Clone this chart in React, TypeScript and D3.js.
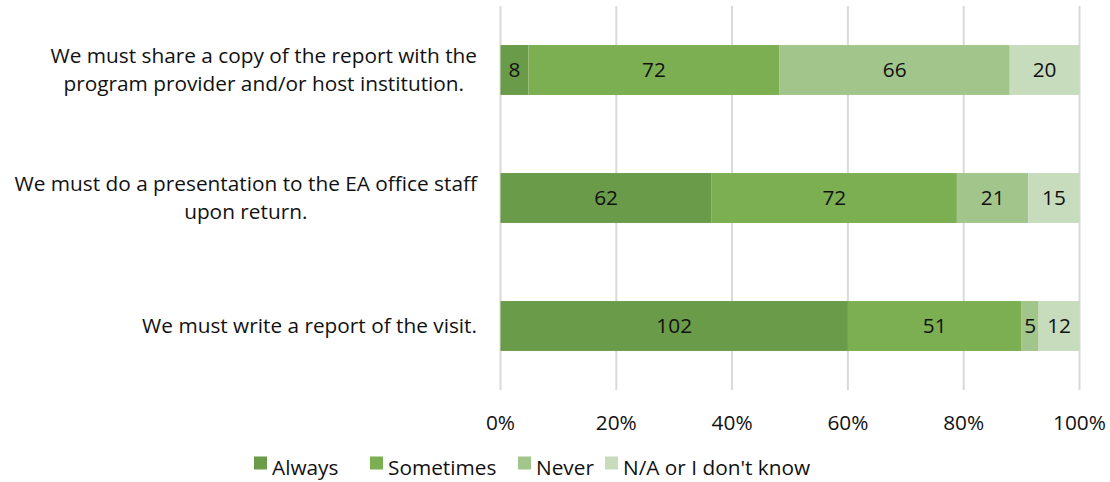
import { useEffect, useRef } from "react"
import * as d3 from "d3"

const categories = [
  ["We must share a copy of the report with the", "program provider and/or host institution."],
  ["We must do a presentation to the EA office staff", "upon return."],
  ["We must write a report of the visit."],
]
const seriesNames = ["Always", "Sometimes", "Never", "N/A or I don't know"]
const always = [8, 62, 102]
const sometimes = [72, 72, 51]
const never = [66, 21, 5]
const naDontKnow = [20, 15, 12]
const tickValues = [0, 0.2, 0.4, 0.6, 0.8, 1]
const colors = ["#699b48", "#7baf52", "#a2c58c", "#c7dcbd"]

const FONT = "'Open Sans', sans-serif"
const FS = "20.8px"

export default function App() {
  const svgRef = useRef<SVGSVGElement>(null)

  useEffect(() => {
    if (!svgRef.current) return
    const svg = d3.select(svgRef.current)
    svg.selectAll("*").remove()

    const width = 1110
    const height = 482
    const margin = { top: 6, left: 500.5, right: 30.5, bottom: 92 }
    const innerW = width - margin.left - margin.right
    const innerH = height - margin.top - margin.bottom

    const series = [always, sometimes, never, naDontKnow]
    const rows = categories.map((_, i) => {
      const vals = series.map(s => s[i])
      const total = d3.sum(vals)
      let acc = 0
      return vals.map((v, k) => {
        const start = acc / total
        acc += v
        return { value: v, x0: start, x1: acc / total, k }
      })
    })

    const x = d3.scaleLinear().domain([0, 1]).range([0, innerW])
    const y = d3.scaleBand<number>()
      .domain(d3.range(categories.length))
      .range([0, innerH])
      .paddingInner(0.61)
      .paddingOuter(0.305)

    const g = svg.append("g").attr("transform", `translate(${margin.left},${margin.top})`)

    g.selectAll("line.grid")
      .data(tickValues)
      .enter()
      .append("line")
      .attr("class", "grid")
      .attr("x1", d => x(d))
      .attr("x2", d => x(d))
      .attr("y1", 0)
      .attr("y2", innerH)
      .attr("stroke", "#d9d9d9")
      .attr("stroke-width", 2)

    rows.forEach((segs, i) => {
      const row = g.append("g").attr("transform", `translate(0,${y(i)})`)
      row.selectAll("rect")
        .data(segs)
        .enter()
        .append("rect")
        .attr("x", d => x(d.x0))
        .attr("width", d => x(d.x1) - x(d.x0))
        .attr("height", y.bandwidth())
        .attr("fill", d => colors[d.k])
      row.selectAll("text")
        .data(segs)
        .enter()
        .append("text")
        .attr("x", d => (x(d.x0) + x(d.x1)) / 2)
        .attr("y", y.bandwidth() / 2)
        .attr("dy", "0.36em")
        .attr("text-anchor", "middle")
        .style("font-family", FONT)
        .style("font-size", FS)
        .style("fill", "#111")
        .text(d => d.value)
    })

    // category labels: block right-aligned, lines centered within block
    const labelRight = -23.5
    const lineGap = 28
    categories.forEach((lines, i) => {
      const cy = (y(i) as number) + y.bandwidth() / 2
      const grp = g.append("g")
      const texts = lines.map((ln, j) =>
        grp.append("text")
          .attr("y", cy + (j - (lines.length - 1) / 2) * lineGap)
          .attr("dy", "0.36em")
          .attr("text-anchor", "middle")
          .style("font-family", FONT)
          .style("font-size", FS)
          .style("fill", "#111")
          .text(ln)
      )
      const maxW = d3.max(texts, t => (t.node() as SVGTextElement).getComputedTextLength()) || 0
      texts.forEach(t => t.attr("x", labelRight - maxW / 2))
    })

    g.selectAll("text.tick")
      .data(tickValues)
      .enter()
      .append("text")
      .attr("class", "tick")
      .attr("x", d => x(d))
      .attr("y", innerH + 33)
      .attr("dy", "0.36em")
      .attr("text-anchor", "middle")
      .style("font-family", FONT)
      .style("font-size", FS)
      .style("fill", "#111")
      .text(d => d3.format(".0%")(d))

    // legend
    const legendX = [254, 370, 518, 605]
    const legend = svg.append("g").attr("transform", `translate(0,463)`)
    seriesNames.forEach((name, k) => {
      legend.append("rect")
        .attr("x", legendX[k])
        .attr("y", -6.5)
        .attr("width", 13)
        .attr("height", 13)
        .attr("fill", colors[k])
      legend.append("text")
        .attr("x", legendX[k] + 18)
        .attr("y", 4)
        .attr("dy", "0.36em")
        .style("font-family", FONT)
        .style("font-size", FS)
        .style("fill", "#111")
        .text(name)
    })
  }, [])

  return (
    <svg
      ref={svgRef}
      width={1110}
      height={482}
      style={{ position: "absolute", left: 0, top: 0, background: "#fff" }}
    />
  )
}
